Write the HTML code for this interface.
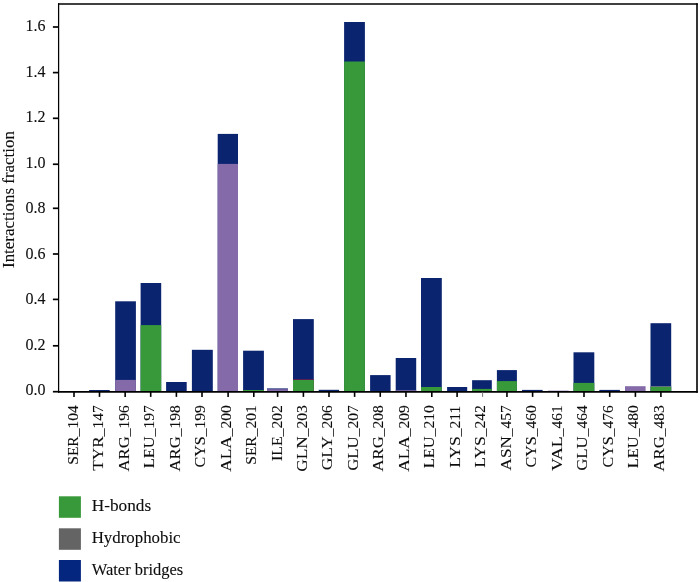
<!DOCTYPE html>
<html><head><meta charset="utf-8"><title>Interactions fraction</title>
<style>
html,body{margin:0;padding:0;background:#fff;}
body{width:700px;height:582px;overflow:hidden;}
svg{display:block;}
text{font-family:"Liberation Serif",serif;fill:#0d0d0d;stroke:#0d0d0d;stroke-width:0.1px;}
</style></head><body>
<svg width="700" height="582" viewBox="0 0 700 582">
<rect x="0" y="0" width="700" height="582" fill="#fff"/>

<g shape-rendering="auto">
<rect x="89.10" y="390.00" width="20.60" height="1.60" fill="#0a2470"/>
<rect x="115.20" y="301.30" width="20.70" height="90.30" fill="#0a2470"/>
<rect x="115.20" y="379.90" width="20.70" height="11.70" fill="#846aa8"/>
<rect x="140.60" y="283.00" width="20.60" height="108.60" fill="#0a2470"/>
<rect x="140.60" y="325.10" width="20.60" height="66.50" fill="#379939"/>
<rect x="166.10" y="382.00" width="20.60" height="9.60" fill="#0a2470"/>
<rect x="191.90" y="349.80" width="20.90" height="41.80" fill="#0a2470"/>
<rect x="217.70" y="133.90" width="20.30" height="257.70" fill="#0a2470"/>
<rect x="217.70" y="163.90" width="20.30" height="227.70" fill="#846aa8"/>
<rect x="243.10" y="350.70" width="20.80" height="40.90" fill="#0a2470"/>
<rect x="243.10" y="390.00" width="20.80" height="1.60" fill="#379939"/>
<rect x="267.00" y="388.40" width="20.90" height="3.20" fill="#0a2470"/>
<rect x="267.00" y="389.20" width="20.90" height="2.40" fill="#846aa8"/>
<rect x="293.00" y="319.10" width="20.80" height="72.50" fill="#0a2470"/>
<rect x="293.00" y="379.30" width="20.80" height="12.30" fill="#7d1f45"/>
<rect x="293.00" y="380.00" width="20.80" height="11.60" fill="#379939"/>
<rect x="318.70" y="389.80" width="20.40" height="1.80" fill="#0a2470"/>
<rect x="344.10" y="22.00" width="20.80" height="369.60" fill="#0a2470"/>
<rect x="344.10" y="61.50" width="20.80" height="330.10" fill="#379939"/>
<rect x="370.10" y="375.10" width="20.50" height="16.50" fill="#0a2470"/>
<rect x="395.70" y="358.00" width="20.50" height="33.60" fill="#0a2470"/>
<rect x="395.70" y="390.20" width="20.50" height="1.40" fill="#846aa8"/>
<rect x="421.00" y="278.00" width="20.80" height="113.60" fill="#0a2470"/>
<rect x="421.00" y="387.00" width="20.80" height="4.60" fill="#379939"/>
<rect x="447.10" y="387.00" width="20.10" height="4.60" fill="#0a2470"/>
<rect x="472.10" y="380.20" width="19.70" height="11.40" fill="#0a2470"/>
<rect x="472.10" y="388.90" width="19.70" height="2.70" fill="#379939"/>
<rect x="496.90" y="370.10" width="20.00" height="21.50" fill="#0a2470"/>
<rect x="496.90" y="381.10" width="20.00" height="10.50" fill="#379939"/>
<rect x="522.00" y="389.90" width="20.60" height="1.70" fill="#0a2470"/>
<rect x="548.00" y="390.65" width="20.60" height="0.95" fill="#846aa8"/>
<rect x="573.50" y="352.30" width="20.80" height="39.30" fill="#0a2470"/>
<rect x="573.50" y="382.90" width="20.80" height="8.70" fill="#379939"/>
<rect x="599.30" y="389.90" width="20.60" height="1.70" fill="#0a2470"/>
<rect x="625.00" y="386.20" width="20.60" height="5.40" fill="#846aa8"/>
<rect x="650.50" y="323.20" width="20.70" height="68.40" fill="#0a2470"/>
<rect x="650.50" y="386.10" width="20.70" height="5.50" fill="#846aa8"/>
<rect x="650.50" y="386.70" width="20.70" height="4.90" fill="#379939"/>
</g>
<g stroke="#000" stroke-linecap="butt">
<line x1="58.6" x2="58.6" y1="3.2" y2="392.65" stroke-width="1.25"/>
<line x1="57.97" x2="697.8" y1="391.8" y2="391.8" stroke-width="1.7"/>
<line x1="57.97" x2="697.8" y1="4.0" y2="4.0" stroke-width="1.6"/>
<line x1="697.0" x2="697.0" y1="3.2" y2="392.65" stroke-width="1.6"/>
</g>
<line x1="52.9" x2="58.5" y1="391.70" y2="391.70" stroke="#000" stroke-width="1.7"/>
<text x="45.5" y="395.20" font-size="16" text-anchor="end">0.0</text>
<line x1="52.9" x2="58.5" y1="345.80" y2="345.80" stroke="#000" stroke-width="1.7"/>
<text x="45.5" y="350.20" font-size="16" text-anchor="end">0.2</text>
<line x1="52.9" x2="58.5" y1="299.40" y2="299.40" stroke="#000" stroke-width="1.7"/>
<text x="45.5" y="303.90" font-size="16" text-anchor="end">0.4</text>
<line x1="52.9" x2="58.5" y1="254.00" y2="254.00" stroke="#000" stroke-width="1.7"/>
<text x="45.5" y="258.80" font-size="16" text-anchor="end">0.6</text>
<line x1="52.9" x2="58.5" y1="208.30" y2="208.30" stroke="#000" stroke-width="1.7"/>
<text x="45.5" y="213.20" font-size="16" text-anchor="end">0.8</text>
<line x1="52.9" x2="58.5" y1="164.25" y2="164.25" stroke="#000" stroke-width="1.7"/>
<text x="45.5" y="167.90" font-size="16" text-anchor="end">1.0</text>
<line x1="52.9" x2="58.5" y1="118.30" y2="118.30" stroke="#000" stroke-width="1.7"/>
<text x="45.5" y="122.20" font-size="16" text-anchor="end">1.2</text>
<line x1="52.9" x2="58.5" y1="72.60" y2="72.60" stroke="#000" stroke-width="1.7"/>
<text x="45.5" y="77.00" font-size="16" text-anchor="end">1.4</text>
<line x1="52.9" x2="58.5" y1="27.00" y2="27.00" stroke="#000" stroke-width="1.7"/>
<text x="45.5" y="30.90" font-size="16" text-anchor="end">1.6</text>
<line x1="74.00" x2="74.00" y1="391.80" y2="396.9" stroke="#000" stroke-width="1.6"/>
<text transform="translate(77.75,464.73) rotate(-90)" font-size="15.5"><tspan textLength="28.4" lengthAdjust="spacingAndGlyphs">SER</tspan>_104</text>
<line x1="99.50" x2="99.50" y1="391.80" y2="396.9" stroke="#000" stroke-width="1.6"/>
<text transform="translate(103.22,470.80) rotate(-90)" font-size="15.5"><tspan textLength="34.5" lengthAdjust="spacingAndGlyphs">TYR</tspan>_147</text>
<line x1="125.15" x2="125.15" y1="391.80" y2="396.9" stroke="#000" stroke-width="1.6"/>
<text transform="translate(128.69,471.52) rotate(-90)" font-size="15.5"><tspan textLength="35.2" lengthAdjust="spacingAndGlyphs">ARG</tspan>_196</text>
<line x1="150.70" x2="150.70" y1="391.80" y2="396.9" stroke="#000" stroke-width="1.6"/>
<text transform="translate(154.16,468.23) rotate(-90)" font-size="15.5"><tspan textLength="31.9" lengthAdjust="spacingAndGlyphs">LEU</tspan>_197</text>
<line x1="176.40" x2="176.40" y1="391.80" y2="396.9" stroke="#000" stroke-width="1.6"/>
<text transform="translate(179.63,471.52) rotate(-90)" font-size="15.5"><tspan textLength="35.2" lengthAdjust="spacingAndGlyphs">ARG</tspan>_198</text>
<line x1="202.00" x2="202.00" y1="391.80" y2="396.9" stroke="#000" stroke-width="1.6"/>
<text transform="translate(205.10,467.55) rotate(-90)" font-size="15.5"><tspan textLength="31.2" lengthAdjust="spacingAndGlyphs">CYS</tspan>_199</text>
<line x1="228.10" x2="228.10" y1="391.80" y2="396.9" stroke="#000" stroke-width="1.6"/>
<text transform="translate(230.57,471.65) rotate(-90)" font-size="15.5"><tspan textLength="35.4" lengthAdjust="spacingAndGlyphs">ALA</tspan>_200</text>
<line x1="253.80" x2="253.80" y1="391.80" y2="396.9" stroke="#000" stroke-width="1.6"/>
<text transform="translate(256.04,464.73) rotate(-90)" font-size="15.5"><tspan textLength="28.4" lengthAdjust="spacingAndGlyphs">SER</tspan>_201</text>
<line x1="277.60" x2="277.60" y1="391.80" y2="396.9" stroke="#000" stroke-width="1.6"/>
<text transform="translate(281.51,461.00) rotate(-90)" font-size="15.5"><tspan textLength="24.7" lengthAdjust="spacingAndGlyphs">ILE</tspan>_202</text>
<line x1="303.40" x2="303.40" y1="391.80" y2="396.9" stroke="#000" stroke-width="1.6"/>
<text transform="translate(306.98,471.65) rotate(-90)" font-size="15.5"><tspan textLength="35.4" lengthAdjust="spacingAndGlyphs">GLN</tspan>_203</text>
<line x1="329.00" x2="329.00" y1="391.80" y2="396.9" stroke="#000" stroke-width="1.6"/>
<text transform="translate(332.45,470.25) rotate(-90)" font-size="15.5"><tspan textLength="34.0" lengthAdjust="spacingAndGlyphs">GLY</tspan>_206</text>
<line x1="354.60" x2="354.60" y1="391.80" y2="396.9" stroke="#000" stroke-width="1.6"/>
<text transform="translate(357.92,470.75) rotate(-90)" font-size="15.5"><tspan textLength="34.5" lengthAdjust="spacingAndGlyphs">GLU</tspan>_207</text>
<line x1="380.25" x2="380.25" y1="391.80" y2="396.9" stroke="#000" stroke-width="1.6"/>
<text transform="translate(383.39,471.52) rotate(-90)" font-size="15.5"><tspan textLength="35.2" lengthAdjust="spacingAndGlyphs">ARG</tspan>_208</text>
<line x1="405.95" x2="405.95" y1="391.80" y2="396.9" stroke="#000" stroke-width="1.6"/>
<text transform="translate(408.86,471.65) rotate(-90)" font-size="15.5"><tspan textLength="35.4" lengthAdjust="spacingAndGlyphs">ALA</tspan>_209</text>
<line x1="431.80" x2="431.80" y1="391.80" y2="396.9" stroke="#000" stroke-width="1.6"/>
<text transform="translate(434.33,468.23) rotate(-90)" font-size="15.5"><tspan textLength="31.9" lengthAdjust="spacingAndGlyphs">LEU</tspan>_210</text>
<line x1="457.10" x2="457.10" y1="391.80" y2="396.9" stroke="#000" stroke-width="1.6"/>
<text transform="translate(459.80,467.78) rotate(-90)" font-size="15.5"><tspan textLength="31.5" lengthAdjust="spacingAndGlyphs">LYS</tspan>_211</text>
<line x1="482.60" x2="482.60" y1="391.80" y2="396.9" stroke="#6a6a6a" stroke-width="0.9"/>
<text transform="translate(485.27,467.78) rotate(-90)" font-size="15.5"><tspan textLength="31.5" lengthAdjust="spacingAndGlyphs">LYS</tspan>_242</text>
<line x1="506.95" x2="506.95" y1="391.80" y2="396.9" stroke="#000" stroke-width="1.6"/>
<text transform="translate(510.74,470.40) rotate(-90)" font-size="15.5"><tspan textLength="34.1" lengthAdjust="spacingAndGlyphs">ASN</tspan>_457</text>
<line x1="532.60" x2="532.60" y1="391.80" y2="396.9" stroke="#000" stroke-width="1.6"/>
<text transform="translate(536.21,467.55) rotate(-90)" font-size="15.5"><tspan textLength="31.2" lengthAdjust="spacingAndGlyphs">CYS</tspan>_460</text>
<line x1="558.30" x2="558.30" y1="391.80" y2="396.9" stroke="#000" stroke-width="1.6"/>
<text transform="translate(561.68,471.05) rotate(-90)" font-size="15.5"><tspan textLength="34.8" lengthAdjust="spacingAndGlyphs">VAL</tspan>_461</text>
<line x1="584.00" x2="584.00" y1="391.80" y2="396.9" stroke="#000" stroke-width="1.6"/>
<text transform="translate(587.15,470.75) rotate(-90)" font-size="15.5"><tspan textLength="34.5" lengthAdjust="spacingAndGlyphs">GLU</tspan>_464</text>
<line x1="609.70" x2="609.70" y1="391.80" y2="396.9" stroke="#000" stroke-width="1.6"/>
<text transform="translate(612.62,467.55) rotate(-90)" font-size="15.5"><tspan textLength="31.2" lengthAdjust="spacingAndGlyphs">CYS</tspan>_476</text>
<line x1="635.40" x2="635.40" y1="391.80" y2="396.9" stroke="#000" stroke-width="1.6"/>
<text transform="translate(638.09,468.23) rotate(-90)" font-size="15.5"><tspan textLength="31.9" lengthAdjust="spacingAndGlyphs">LEU</tspan>_480</text>
<line x1="660.90" x2="660.90" y1="391.80" y2="396.9" stroke="#000" stroke-width="1.6"/>
<text transform="translate(663.56,471.52) rotate(-90)" font-size="15.5"><tspan textLength="35.2" lengthAdjust="spacingAndGlyphs">ARG</tspan>_483</text>
<text transform="translate(14.0,199.5) rotate(-90)" font-size="16.5" text-anchor="middle" textLength="137" lengthAdjust="spacingAndGlyphs">Interactions fraction</text>
<rect x="58.9" y="496.3" width="22" height="21.5" fill="#379939"/>
<text x="91.7" y="511.15" font-size="16.3" textLength="59.5" lengthAdjust="spacingAndGlyphs">H-bonds</text>
<rect x="58.9" y="528.3" width="22" height="21.5" fill="#646464"/>
<text x="91.7" y="543.15" font-size="16.3" textLength="88.9" lengthAdjust="spacingAndGlyphs">Hydrophobic</text>
<rect x="58.9" y="560.0" width="22" height="21.5" fill="#04267f"/>
<text x="91.7" y="575.45" font-size="16.3" textLength="91.6" lengthAdjust="spacingAndGlyphs">Water bridges</text>
</svg></body></html>
